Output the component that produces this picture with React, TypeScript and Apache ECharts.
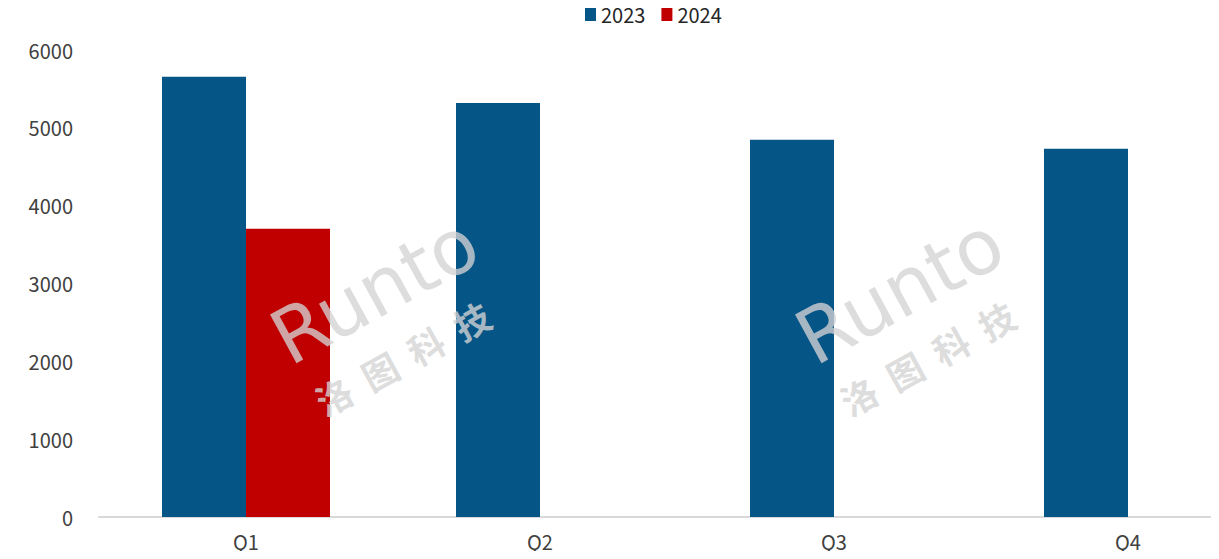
import React, { useEffect, useRef } from "react";
import * as echarts from "echarts";

const categories = ["Q1", "Q2", "Q3", "Q4"];
const series2023 = [5655, 5320, 4846, 4730];
const series2024: (number | null)[] = [3702, null, null, null];
const yTicks = [0, 1000, 2000, 3000, 4000, 5000, 6000];

const FONT = "'Noto Sans CJK SC', 'Noto Sans', sans-serif";

function watermark(cx: number, cy: number) {
  const fill = "rgba(212,212,212,0.78)";
  return {
    type: "group",
    x: cx,
    y: cy,
    rotation: 0.5,
    z: 100,
    zlevel: 1,
    silent: true,
    children: [
      {
        type: "text",
        x: 0,
        y: -36,
        z: 100,
        zlevel: 1,
        style: {
          text: "Runto",
          fontSize: 76,
          fontFamily: "'DejaVu Sans', sans-serif",
          fill,
          align: "center",
          verticalAlign: "middle",
        },
      },
      {
        type: "text",
        x: -8,
        y: 36,
        z: 100,
        zlevel: 1,
        style: {
          text: "洛  图  科  技",
          fontSize: 36,
          fontFamily: "'Noto Sans CJK SC', sans-serif",
          fontWeight: "bold",
          fill,
          align: "center",
          verticalAlign: "middle",
        },
      },
    ],
  };
}

export default function App() {
  const ref = useRef<HTMLDivElement>(null);
  useEffect(() => {
    if (!ref.current) return;
    const chart = echarts.init(ref.current, undefined, { renderer: "svg" });
    chart.setOption({
      animation: false,
      backgroundColor: "#ffffff",
      legend: {
        top: 4,
        left: 585,
        padding: 0,
        itemWidth: 11,
        itemHeight: 14,
        itemGap: 16,
        icon: "rect",
        textStyle: { fontSize: 20, color: "#262626", fontFamily: FONT },
        data: ["2023", "2024"],
      },
      grid: { left: 99, right: 0, top: 50, bottom: 42, containLabel: false },
      xAxis: {
        type: "category",
        data: categories,
        axisLine: { lineStyle: { color: "#d9d9d9", width: 2 } },
        axisTick: { show: false },
        axisLabel: { fontSize: 20, color: "#404040", fontFamily: FONT, margin: 14 },
      },
      yAxis: {
        type: "value",
        min: yTicks[0],
        max: yTicks[yTicks.length - 1],
        interval: 1000,
        splitLine: { show: false },
        axisLine: { show: false },
        axisTick: { show: false },
        axisLabel: {
          fontSize: 20,
          color: "#404040",
          fontFamily: FONT,
          margin: 26,
          formatter: (v: number) => String(v),
        },
      },
      series: [
        {
          name: "2023",
          type: "bar",
          data: series2023,
          barWidth: 84,
          barGap: "0%",
          itemStyle: { color: "#065587" },
        },
        {
          name: "2024",
          type: "bar",
          data: series2024,
          barWidth: 84,
          barGap: "0%",
          itemStyle: { color: "#c00000" },
        },
      ],
      graphic: [watermark(392, 322), watermark(917, 322)],
    });
    return () => chart.dispose();
  }, []);
  return (
    <div style={{ width: 1219, height: 559, margin: -8, overflow: "hidden" }}>
      <div ref={ref} style={{ width: 1275, height: 559 }} />
    </div>
  );
}
